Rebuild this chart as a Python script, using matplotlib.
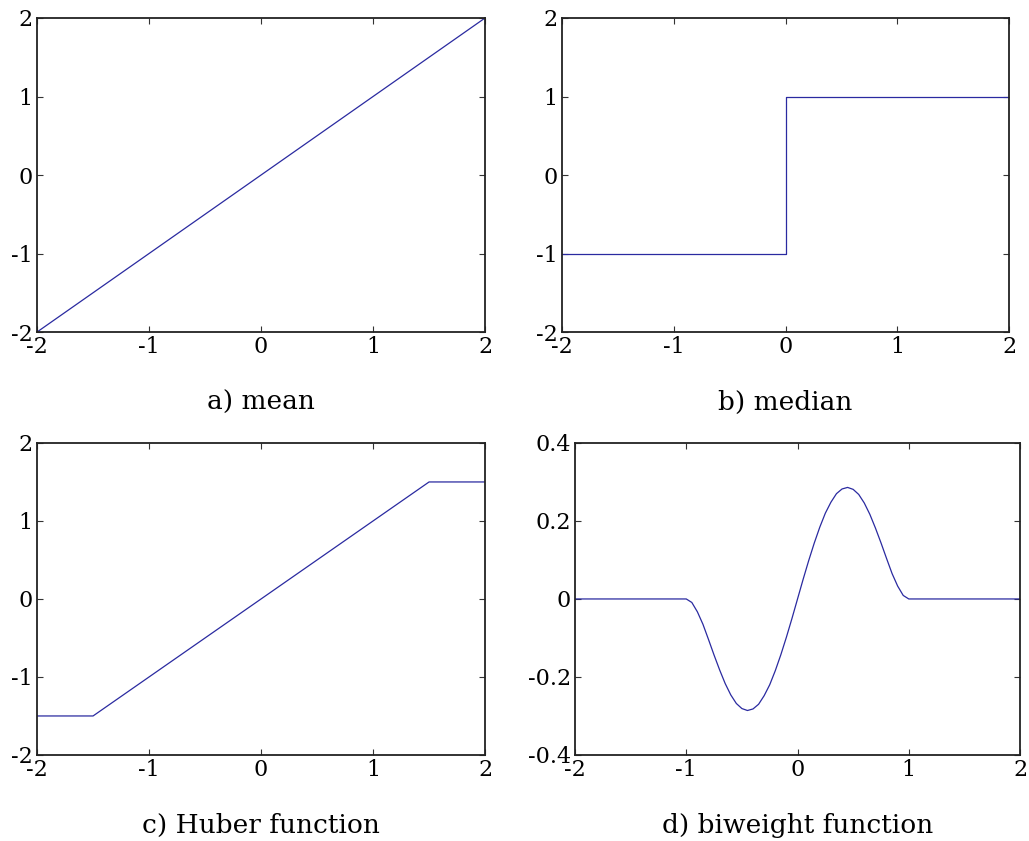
import matplotlib.pyplot as plt

plt.rcParams['font.family'] = ['DejaVu Serif']

# a) mean
mean_x = [-2, 2]
mean_y = [-2, 2]

# b) median
median_x = [-2, 0, 0, 2]
median_y = [-1, -1, 1, 1]

# c) Huber function
huber_x = [-2, -1.5, 1.5, 2]
huber_y = [-1.5, -1.5, 1.5, 1.5]

# d) biweight function (read off the curve)
bi_x = [-2, -1.0, -0.95, -0.9, -0.85, -0.8, -0.75, -0.7, -0.65, -0.6, -0.55,
        -0.5, -0.45, -0.4, -0.35, -0.3, -0.25, -0.2, -0.15, -0.1, -0.05, 0.0,
        0.05, 0.1, 0.15, 0.2, 0.25, 0.3, 0.35, 0.4, 0.45, 0.5, 0.55, 0.6,
        0.65, 0.7, 0.75, 0.8, 0.85, 0.9, 0.95, 1.0, 2]
bi_y = [0, 0, -0.009, -0.033, -0.065, -0.104, -0.144, -0.182, -0.217, -0.246,
        -0.268, -0.281, -0.286, -0.282, -0.270, -0.248, -0.220, -0.184,
        -0.143, -0.098, -0.050, 0.0, 0.050, 0.098, 0.143, 0.184, 0.220,
        0.248, 0.270, 0.282, 0.286, 0.281, 0.268, 0.246, 0.217, 0.182,
        0.144, 0.104, 0.065, 0.033, 0.009, 0, 0]

x_ticks = [-2, -1, 0, 1, 2]
y_ticks = [-2, -1, 0, 1, 2]
bi_y_ticks = [-0.4, -0.2, 0, 0.2, 0.4]

LINE = '#2a2aa0'

fig = plt.figure(figsize=(10.29, 8.41), dpi=100)

panels = [
    ([0.036, 0.6052, 0.4354, 0.3734], mean_x, mean_y, y_ticks, 'a) mean'),
    ([0.5462, 0.6052, 0.4344, 0.3734], median_x, median_y, y_ticks, 'b) median'),
    ([0.036, 0.1023, 0.4354, 0.371], huber_x, huber_y, y_ticks, 'c) Huber function'),
    ([0.5588, 0.1023, 0.4325, 0.371], bi_x, bi_y, bi_y_ticks, 'd) biweight function'),
]

for rect, xs, ys, yt, caption in panels:
    ax = fig.add_axes(rect)
    ax.plot(xs, ys, color=LINE, lw=0.9)
    ax.set_xlim(-2, 2)
    ax.set_ylim(yt[0], yt[-1])
    ax.set_xticks(x_ticks)
    ax.set_yticks(yt)
    ax.set_xticklabels([('%g' % v) for v in x_ticks])
    ax.set_yticklabels([('%g' % v) for v in yt])
    ax.tick_params(direction='in', length=4, width=0.8, top=True, right=True,
                   labelsize=16, pad=3, color='#333333')
    for s in ax.spines.values():
        s.set_linewidth(1.3)
        s.set_color('#222222')
    ax.set_xlabel(caption, fontsize=19, labelpad=23)

fig.savefig('out.png', dpi=100)
